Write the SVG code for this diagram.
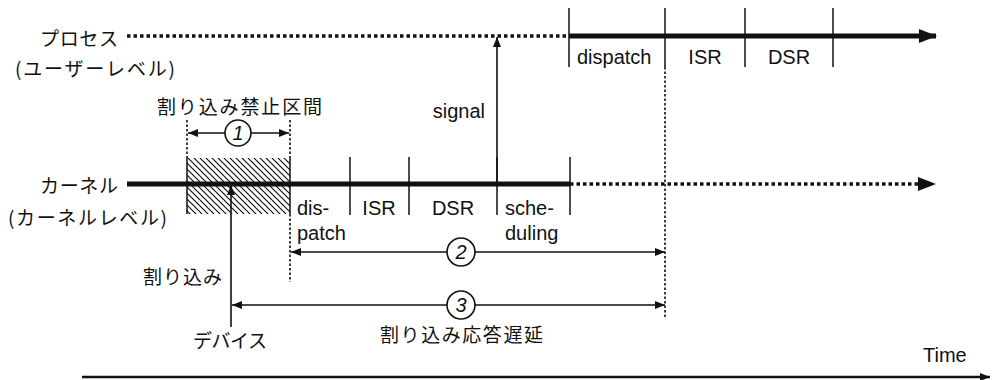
<svg xmlns="http://www.w3.org/2000/svg" width="992" height="380" viewBox="0 0 992 380">
<style>
.lat{font-family:'Liberation Sans',Arial,sans-serif;font-size:20px;fill:#111}
.jp{font-family:'Noto Sans CJK JP','Noto Sans',sans-serif;font-size:19px;fill:#111}
.num{font-family:'Liberation Sans',Arial,sans-serif;font-size:20px;font-style:italic;fill:#111;text-anchor:middle}
.thick{stroke:#111;stroke-width:5;fill:none}
.dot{stroke:#111;stroke-width:3.5;stroke-dasharray:3.5 3;fill:none}
.vdot{stroke:#111;stroke-width:1.6;stroke-dasharray:2.5 2;fill:none}
.tick{stroke:#111;stroke-width:1.5;fill:none}
.thin{stroke:#111;stroke-width:1.6;fill:none}
.circ{stroke:#111;stroke-width:1.6;fill:#fff}
</style>
<defs>
<pattern id="hatch" width="6" height="6" patternUnits="userSpaceOnUse">
<path d="M-1,-1 L7,7 M-1,5 L1,7 M5,-1 L7,1" stroke="#111" stroke-width="1.2"/>
</pattern>
<marker id="ah" viewBox="0 0 10 8" refX="10" refY="4" markerWidth="11" markerHeight="8" markerUnits="userSpaceOnUse" orient="auto-start-reverse">
<path d="M0,0 L10,4 L0,8 Z" fill="#111"/>
</marker>
<marker id="big" viewBox="0 0 18 14" refX="17" refY="7" markerWidth="18" markerHeight="14" markerUnits="userSpaceOnUse" orient="auto">
<path d="M0,0 L18,7 L0,14 Z" fill="#111"/>
</marker>
</defs>

<g id="labels">
<text class="jp" x="40" y="46" textLength="78" lengthAdjust="spacing">プロセス</text>
<text class="jp" x="15" y="76" textLength="160" lengthAdjust="spacing">(ユーザーレベル)</text>
<text class="jp" x="40" y="193" textLength="78" lengthAdjust="spacing">カーネル</text>
<text class="jp" x="8" y="225" textLength="159" lengthAdjust="spacing">(カーネルレベル)</text>
</g>

<g id="process-line">
<line class="dot" x1="127" y1="36" x2="569" y2="36"/>
<line class="thick" x1="569" y1="36" x2="936" y2="36" marker-end="url(#big)"/>
<line class="tick" x1="569" y1="8" x2="569" y2="67"/>
<line class="tick" x1="665" y1="8" x2="665" y2="67"/>
<line class="tick" x1="745" y1="8" x2="745" y2="67"/>
<line class="tick" x1="833" y1="8" x2="833" y2="67"/>
<text class="lat" x="577" y="64">dispatch</text>
<text class="lat" x="705" y="64" text-anchor="middle">ISR</text>
<text class="lat" x="789" y="64" text-anchor="middle">DSR</text>
</g>

<g id="mask-interval">
<rect x="187" y="158" width="103" height="56" fill="url(#hatch)"/>
<line class="tick" x1="187" y1="158" x2="187" y2="214"/>
<line class="tick" x1="290" y1="158" x2="290" y2="214"/>
<line class="vdot" x1="187" y1="120" x2="187" y2="158"/>
<line class="vdot" x1="290" y1="120" x2="290" y2="158"/>
<text class="jp" x="157" y="114" textLength="165" lengthAdjust="spacing">割り込み禁止区間</text>
</g>

<g id="kernel-line">
<line class="thick" x1="127" y1="184" x2="570" y2="184"/>
<line class="dot" x1="570" y1="184" x2="920" y2="184"/>
<path d="M918,177 L936,184 L918,191 Z" fill="#111"/>
<line class="tick" x1="350" y1="157" x2="350" y2="215"/>
<line class="tick" x1="409" y1="157" x2="409" y2="215"/>
<line class="tick" x1="497" y1="157" x2="497" y2="215"/>
<line class="tick" x1="570" y1="157" x2="570" y2="215"/>
<text class="lat" x="297" y="215">dis-</text>
<text class="lat" x="297" y="240">patch</text>
<text class="lat" x="379" y="215" text-anchor="middle">ISR</text>
<text class="lat" x="453" y="215" text-anchor="middle">DSR</text>
<text class="lat" x="505" y="215">sche-</text>
<text class="lat" x="505" y="240">duling</text>
</g>

<g id="device">
<text class="jp" x="143" y="284" textLength="79" lengthAdjust="spacing">割り込み</text>
<text class="jp" x="193" y="348" textLength="74" lengthAdjust="spacing">デバイス</text>
</g>

<g id="latency">
<text class="jp" x="380" y="342" textLength="163" lengthAdjust="spacing">割り込み応答遅延</text>
</g>

<g id="time-axis">
<line x1="82" y1="377" x2="990" y2="377" stroke="#111" stroke-width="2.5" marker-end="url(#ah)"/>
<text class="lat" x="923" y="362">Time</text>
</g>

<g id="connectors">
<line class="vdot" x1="290" y1="214" x2="290" y2="282"/>
<line class="vdot" x1="665" y1="67" x2="665" y2="318"/>
<line class="thin" x1="497" y1="184" x2="497" y2="37" marker-end="url(#ah)"/>
<text class="lat" x="485" y="118" text-anchor="end">signal</text>
<line class="thin" x1="231" y1="327" x2="231" y2="185" marker-end="url(#ah)"/>
<line class="thin" x1="225" y1="133" x2="188" y2="133" marker-end="url(#ah)"/>
<line class="thin" x1="251" y1="133" x2="289" y2="133" marker-end="url(#ah)"/>
<circle class="circ" cx="238" cy="133" r="13"/>
<text class="num" x="238" y="140">1</text>
<line class="thin" x1="447" y1="252" x2="291" y2="252" marker-end="url(#ah)"/>
<line class="thin" x1="475" y1="252" x2="665" y2="252" marker-end="url(#ah)"/>
<circle class="circ" cx="461" cy="252" r="14"/>
<text class="num" x="461" y="259">2</text>
<line class="thin" x1="447" y1="305" x2="232" y2="305" marker-end="url(#ah)"/>
<line class="thin" x1="475" y1="305" x2="665" y2="305" marker-end="url(#ah)"/>
<circle class="circ" cx="461" cy="305" r="14"/>
<text class="num" x="461" y="312">3</text>
</g>
</svg>
